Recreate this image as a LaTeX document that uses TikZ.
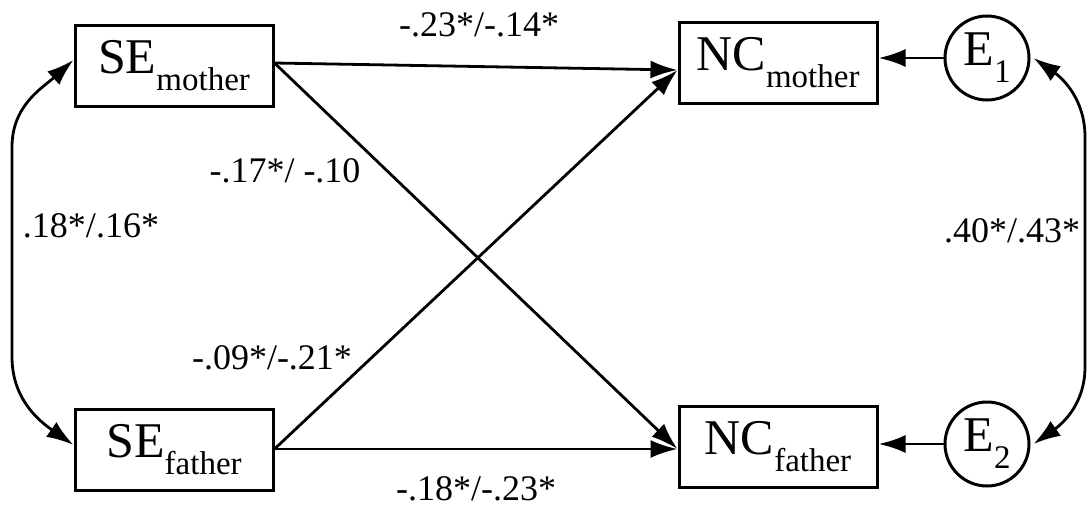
\documentclass[tikz,border=0pt]{standalone}
\usepackage{fontspec}
\setmainfont{Liberation Serif}
\usetikzlibrary{arrows.meta}
\newcommand{\nlab}[2]{{\fontsize{50}{50}\selectfont #1}\raisebox{-17pt}{\fontsize{33}{33}\selectfont #2}}
\tikzset{
  box/.style={draw, line width=3pt, minimum width=198pt, minimum height=81pt, inner sep=0pt},
  err/.style={draw, circle, line width=3pt, minimum size=84pt, inner sep=0pt},
  path/.style={line width=2.8pt, -{Latex[length=27pt,width=18pt]}},
  cov/.style={line width=2.8pt, {Latex[length=27pt,width=18pt]}-{Latex[length=27pt,width=18pt]}},
  coef/.style={font=\fontsize{36}{36}\selectfont, inner sep=0pt, anchor=base}
}
\begin{document}
\begin{tikzpicture}[x=1pt,y=1pt]
\useasboundingbox (0,0) rectangle (1089,507);
\node[box] (SEm) at (174,441) {\nlab{SE}{mother}};
\node[box] (SEf) at (174,57) {\nlab{SE}{father}};
\node[box] (NCm) at (778,444) {\nlab{NC}{mother}};
\node[box] (NCf) at (778,60) {\nlab{NC}{father}};
\node[err] (E1) at (987,449) {\nlab{E}{1}};
\node[err] (E2) at (987,63) {\nlab{E}{2}};
\coordinate (sm) at ([yshift=3pt]SEm.east);
\coordinate (sf) at ([yshift=1pt]SEf.east);
\coordinate (nm) at ([yshift=-7pt]NCm.west);
\coordinate (nf) at ([yshift=-2pt]NCf.west);
\draw[path] (sm) -- (nm);
\draw[path] (sm) -- (nf);
\draw[path] (sf) -- (nm);
\draw[path] (sf) -- (nf);
\draw[path] (E1.west) -- (E1.west -| NCm.east);
\draw[path] (E2.west) -- (E2.west -| NCf.east);
\draw[cov] ([yshift=6pt]SEm.west) to[out=222, in=90] (12,360) -- (12,150) to[out=-90, in=145] ([yshift=5pt]SEf.west);
\draw[cov] ([xshift=3pt]E1.east) to[out=-35, in=90] (1085,370) -- (1085,140) to[out=-90, in=35] ([xshift=3pt]E2.east);
\node[coef] (c1) at (479,470) {-.23*/-.14*};
\node[coef] (c2) at (285,325) {-.17*/ -.10};
\node[coef] (c3) at (91,270) {.18*/.16*};
\node[coef] (c4) at (1012,265) {.40*/.43*};
\node[coef] (c5) at (272,138) {-.09*/-.21*};
\node[coef] (c6) at (476,7) {-.18*/-.23*};
\end{tikzpicture}
\end{document}
